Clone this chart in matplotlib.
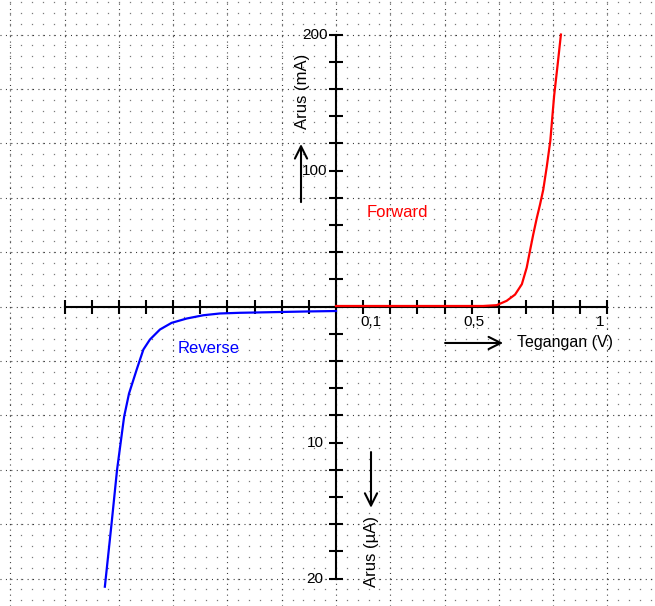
import numpy as np
import matplotlib
matplotlib.use("Agg")
import matplotlib.pyplot as plt

# ---- data ----
forward_v = [0.0, 0.1, 0.2, 0.3, 0.4, 0.5, 0.542, 0.592, 0.629, 0.660, 0.685, 0.703,
             0.715, 0.727, 0.740, 0.752, 0.764, 0.777, 0.790, 0.804, 0.817, 0.829]
forward_ma = [0.4, 0.4, 0.4, 0.4, 0.4, 0.4, 0.4, 1.0, 4.2, 8.8, 16.4, 28.7,
              41, 53, 65, 75, 86, 103, 122, 155, 178, 200]

reverse_v = [0.0, -0.1, -0.2, -0.3, -0.354, -0.428, -0.489, -0.550, -0.606, -0.649,
             -0.686, -0.710, -0.7346, -0.763, -0.781, -0.807, -0.828, -0.852]
reverse_ua = [-0.33, -0.36, -0.40, -0.44, -0.46, -0.51, -0.64, -0.88, -1.20, -1.69,
              -2.43, -3.16, -4.63, -6.4, -8.1, -12.0, -16.1, -20.6]

x_tick_labels = {0.1: "0,1", 0.5: "0,5", 1.0: "1"}
y_tick_labels_ma = {200: "200", 100: "100"}
y_tick_labels_ua = {10: "10", 20: "20"}

UA_SCALE = 10.0  # 1 µA on the lower half is drawn like 10 mA on the upper half

FONT = ["Liberation Sans", "DejaVu Sans"]
plt.rcParams["font.family"] = FONT

fig = plt.figure(figsize=(6.55, 6.06), dpi=100)
ax = fig.add_axes([0, 0, 1, 1])
ax.set_xlim(-1.2385, 1.1758)
ax.set_ylim(-220.2, 225.4)
ax.set_facecolor("white")

# ---- dotted grid ----
xmin, xmax = ax.get_xlim()
ymin, ymax = ax.get_ylim()
mx = np.arange(np.ceil(xmin / 0.04) * 0.04, xmax, 0.04)
my = np.arange(np.ceil(ymin / 8) * 8, ymax, 8)
gx, gy = np.meshgrid(mx, my)
ax.plot(gx.ravel(), gy.ravel(), linestyle="none", marker="s", markersize=0.9,
        markeredgewidth=0, color="#7a7a7a", zorder=0)
for xv in np.arange(np.ceil(xmin / 0.2) * 0.2, xmax, 0.2):
    ax.axvline(xv, color="#333333", lw=0.8, linestyle=(0, (0.9, 3.98)), zorder=0)
for yv in np.arange(np.ceil(ymin / 40) * 40, ymax, 40):
    ax.axhline(yv, color="#333333", lw=0.8, linestyle=(0, (0.9, 3.98)), zorder=0)

# ---- axes through origin ----
for s in ["top", "right"]:
    ax.spines[s].set_visible(False)
ax.spines["left"].set_position(("data", 0))
ax.spines["bottom"].set_position(("data", 0))
ax.spines["left"].set_bounds(-200, 200)
ax.spines["bottom"].set_bounds(-1, 1)
for s in ["left", "bottom"]:
    ax.spines[s].set_linewidth(1.5)
    ax.spines[s].set_color("black")
    ax.spines[s].set_zorder(3)

ax.set_xticks(np.round(np.arange(-1.0, 1.01, 0.1), 2))
ax.set_yticks(np.arange(-200, 201, 20))
ax.tick_params(axis="both", direction="inout", length=9.5, width=1.5, color="black",
               labelbottom=False, labelleft=False)

# ---- tick labels ----
x_label_offsets = {0.1: 0.029, 0.5: 0.009, 1.0: -0.027}
for v, lab in x_tick_labels.items():
    ax.text(v + x_label_offsets[v], -11.4, lab, ha="center", va="center", fontsize=11)
for v, lab in y_tick_labels_ma.items():
    ax.text(-0.031, v, lab, ha="right", va="center", fontsize=11)
for v, lab in y_tick_labels_ua.items():
    ax.text(-0.046, -v * UA_SCALE, lab, ha="right", va="center", fontsize=11)

# ---- curves ----
ax.plot(forward_v, forward_ma, color="red", lw=1.6, zorder=4)
ax.plot(reverse_v, np.array(reverse_ua) * UA_SCALE, color="blue", lw=1.6, zorder=4)

ax.text(0.114, 69.5, "Forward", color="red", fontsize=12, ha="left", va="center")
ax.text(-0.582, -31.2, "Reverse", color="blue", fontsize=12, ha="left", va="center")

# ---- axis names and arrows ----
arrow = dict(arrowstyle="->", lw=1.5, color="black", mutation_scale=22, shrinkA=0, shrinkB=0)
ax.annotate("", xy=(-0.129, 119.5), xytext=(-0.129, 76.8), arrowprops=arrow)
ax.annotate("", xy=(0.129, -148), xytext=(0.129, -107), arrowprops=arrow)
ax.annotate("", xy=(0.616, -26.8), xytext=(0.402, -26.8), arrowprops=arrow)

ax.text(-0.125, 158.5, "Arus (mA)", rotation=90, ha="center", va="center", fontsize=12)
ax.text(0.129, -179.8, "Arus (\u00b5A)", rotation=90, ha="center", va="center", fontsize=12)
ax.text(0.667, -26.8, "Tegangan (V)", ha="left", va="center", fontsize=11.5)

fig.savefig("out.png", dpi=100)
